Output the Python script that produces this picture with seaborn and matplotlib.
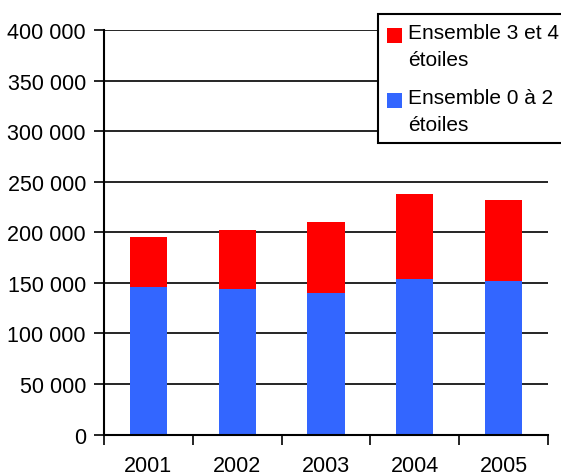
import matplotlib
matplotlib.use("Agg")
import matplotlib.pyplot as plt
from matplotlib.patches import Rectangle
from matplotlib.legend_handler import HandlerPatch
from matplotlib.ticker import FuncFormatter, FixedLocator
import seaborn as sns
import pandas as pd

years = ["2001", "2002", "2003", "2004", "2005"]
low_stars = [146000, 144000, 140000, 154000, 152000]    # Ensemble 0 à 2 étoiles
high_stars = [50000, 58000, 70000, 84000, 80000]        # Ensemble 3 et 4 étoiles
y_ticks = [0, 50000, 100000, 150000, 200000, 250000, 300000, 350000, 400000]
legend_labels = ["Ensemble 3 et 4\nétoiles", "Ensemble 0 à 2\nétoiles"]

RED = "#FF0000"
BLUE = "#3366FF"

sns.set_theme(style="white")
plt.rcParams["font.family"] = ["Liberation Sans", "DejaVu Sans"]
plt.rcParams["text.color"] = "black"

df = pd.DataFrame({
    "year": years,
    "low": low_stars,
    "high": high_stars,
})
df["total"] = df["low"] + df["high"]

fig = plt.figure(figsize=(5.61, 4.77), dpi=100)
ax = fig.add_axes([0.1854, 0.087, 0.9768 - 0.1854, 0.934 - 0.087])

# stacked bars: full height in red, lower part in blue on top of it
sns.barplot(data=df, x="year", y="total", color=RED, saturation=1,
            width=0.42, ax=ax, zorder=3, linewidth=0)
sns.barplot(data=df, x="year", y="low", color=BLUE, saturation=1,
            width=0.42, ax=ax, zorder=3, linewidth=0)

ax.set_xlim(-0.5, len(years) - 0.5)
ax.set_ylim(0, 400000)
ax.set_xlabel("")
ax.set_ylabel("")

ax.yaxis.set_major_locator(FixedLocator(y_ticks))
ax.yaxis.set_major_formatter(FuncFormatter(lambda v, p: f"{int(v):,}".replace(",", " ")))
ax.grid(axis="y", color="black", linewidth=1.2, zorder=1)
ax.set_axisbelow(True)

for s in ["top", "right"]:
    ax.spines[s].set_visible(False)
for s in ["left", "bottom"]:
    ax.spines[s].set_color("black")
    ax.spines[s].set_linewidth(1.5)
    ax.spines[s].set_zorder(4)

ax.tick_params(axis="y", which="major", direction="out", length=7, width=1.2,
               color="black", labelsize=15.5, labelcolor="black", pad=6, left=True)
ax.set_xticks(range(len(years)))
ax.set_xticklabels(years)
ax.set_xticks([i - 0.5 for i in range(len(years) + 1)], minor=True)
ax.tick_params(axis="x", which="major", length=0, labelsize=15.5,
               labelcolor="black", pad=14.5)
ax.tick_params(axis="x", which="minor", direction="out", length=7, width=1.2,
               color="black", bottom=True)


def top_square(legend, orig_handle, xdescent, ydescent, width, height, fontsize):
    sq = 0.72 * fontsize
    return Rectangle((-xdescent, -ydescent + height - sq), sq, sq)


handles = [Rectangle((0, 0), 1, 1, facecolor=RED, edgecolor="none"),
           Rectangle((0, 0), 1, 1, facecolor=BLUE, edgecolor="none")]
leg = fig.legend(handles, legend_labels, loc="upper left",
                 bbox_to_anchor=(0.674, 0.9686), borderaxespad=0,
                 fontsize=15, frameon=True, fancybox=False, shadow=False,
                 framealpha=1, labelcolor="black",
                 handlelength=0.72, handleheight=2.45, handletextpad=0.3,
                 labelspacing=0.95, borderpad=0.42,
                 handler_map={Rectangle: HandlerPatch(patch_func=top_square)})
leg.get_frame().set_edgecolor("black")
leg.get_frame().set_facecolor("white")
leg.get_frame().set_linewidth(1.5)
for t in leg.get_texts():
    t.set_linespacing(1.52)

fig.savefig("out.png", dpi=100)
